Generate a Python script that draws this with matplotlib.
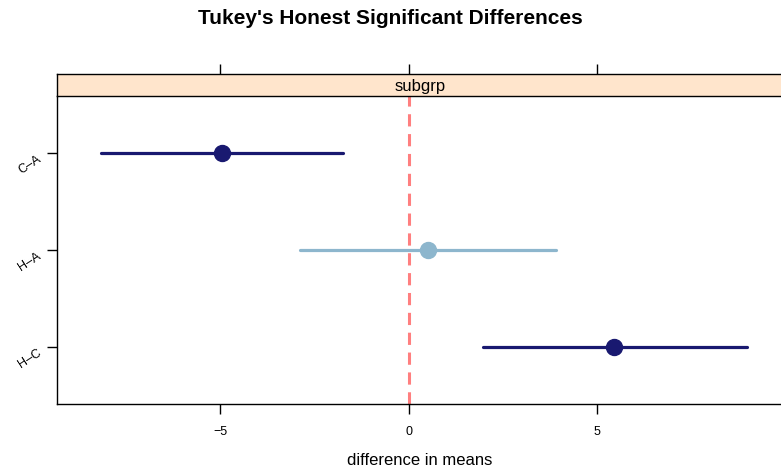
import matplotlib
matplotlib.use("Agg")
from matplotlib import pyplot as plt

plt.rcParams['font.family'] = ['Liberation Sans', 'DejaVu Sans']

# Tukey HSD results, top to bottom
comparisons = ["C\u2013A", "H\u2013A", "H\u2013C"]
diff = [-4.95, 0.50, 5.45]
lwr = [-8.15, -2.87, 1.97]
upr = [-1.73, 3.90, 8.98]
significant = [True, False, True]

xticks = [-5, 0, 5]
xtick_labels = ["\u22125", "0", "5"]

fig = plt.figure(figsize=(7.81, 4.74), dpi=100)

left, right = 57 / 781, 1.002
bottom, top = 1 - 404 / 474, 1 - 96 / 474
strip_h = 22 / 474

ax = fig.add_axes([left, bottom, right - left, top - bottom])
strip = fig.add_axes([left, top, right - left, strip_h], sharex=ax)

xlim = (-9.33, 9.92)
n = len(comparisons)
ypos = list(range(n, 0, -1))

ax.axvline(0, color="#FF7F7F", lw=2.2, ls=(0, (4, 2.5)), zorder=1)
for y, d, lo, hi, sig in zip(ypos, diff, lwr, upr, significant):
    col = "#191970" if sig else "#8DB6CD"
    ax.plot([lo, hi], [y, y], color=col, lw=2.3, solid_capstyle="round", zorder=2)
    ax.plot(d, y, "o", color=col, ms=11.5, mec=col, zorder=3)

ax.set_xlim(*xlim)
ax.set_ylim(0.41, n + 0.59)
ax.set_yticks(ypos)
ax.set_yticklabels(comparisons, rotation=33, ha="right", va="top", fontsize=9,
                   rotation_mode="anchor")
ax.set_xticks(xticks)
ax.set_xticklabels(xtick_labels, fontsize=9)
ax.tick_params(axis="both", direction="out", length=7.5, width=1)
ax.tick_params(axis="x", pad=8)
ax.tick_params(axis="y", pad=7)
ax.set_xlabel("difference in means", fontsize=12, labelpad=11)
for s in ax.spines.values():
    s.set_linewidth(1)
ax.spines["top"].set_visible(False)

strip.set_facecolor("#FFE5CC")
strip.set_yticks([])
strip.tick_params(axis="x", which="both", bottom=False, labelbottom=False,
                  top=True, labeltop=False, direction="out", length=7.5, width=1)
strip.text(0.5, 0.42, "subgrp", transform=strip.transAxes, ha="center",
           va="center", fontsize=12)
for s in strip.spines.values():
    s.set_linewidth(1)

fig.text(0.5, 1 - 18 / 474, "Tukey's Honest Significant Differences",
         ha="center", va="center", fontsize=15, fontweight="bold")

fig.savefig("out.png", dpi=100)
